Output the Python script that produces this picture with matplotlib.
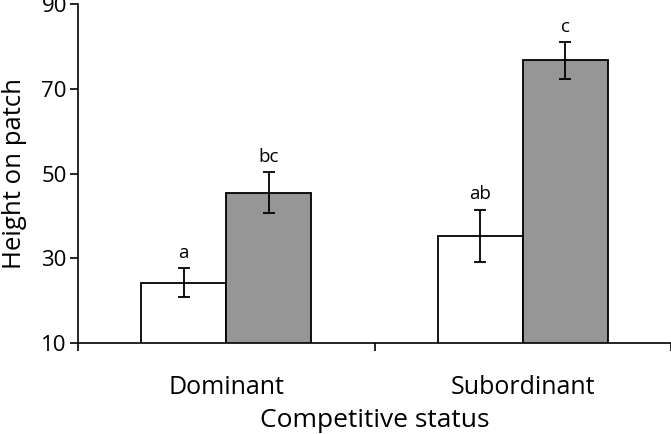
import numpy as np
import matplotlib.pyplot as plt

# values
groups = ["Dominant", "Subordinant"]
white_means = [24.2, 35.3]
white_err = [3.4, 6.2]
grey_means = [45.5, 76.7]
grey_err = [4.8, 4.3]
white_letters = ["a", "ab"]
grey_letters = ["bc", "c"]

plt.rcParams['font.family'] = ['Open Sans', 'DejaVu Sans']

fig = plt.figure(figsize=(6.71, 4.34), dpi=100)
ax = fig.add_axes([78 / 671, 1 - 343 / 434, 1 - 78 / 671, 339 / 434])

x = np.arange(len(groups))
w = 0.287
ekw = dict(ecolor='black', elinewidth=1.3, capsize=4.5, capthick=1.3)
ax.bar(x - w / 2, white_means, w, yerr=white_err, color='white',
       edgecolor='black', linewidth=1.3, error_kw=ekw, zorder=2)
ax.bar(x + w / 2, grey_means, w, yerr=grey_err, color='#969696',
       edgecolor='black', linewidth=1.3, error_kw=ekw, zorder=2)

for i in range(len(groups)):
    ax.text(x[i] - w / 2, white_means[i] + white_err[i] + 1.5, white_letters[i],
            ha='center', va='bottom', fontsize=13.5)
    ax.text(x[i] + w / 2, grey_means[i] + grey_err[i] + 1.5, grey_letters[i],
            ha='center', va='bottom', fontsize=13.5)

ax.set_xlim(-0.5, 1.5)
ax.set_ylim(10, 90)
ax.set_yticks([10, 30, 50, 70, 90])
ax.set_xticks([-0.5, 0.5, 1.5])
ax.set_xticklabels([])
ax.set_xticks(x, minor=True)
ax.set_xticklabels(groups, minor=True, fontsize=18)
ax.tick_params(axis='x', which='minor', length=0, pad=23)
ax.tick_params(axis='x', which='major', length=6, width=1.2, direction='out')
ax.tick_params(axis='y', length=6, width=1.2, direction='out', labelsize=16, pad=2)

for s in ['top', 'right']:
    ax.spines[s].set_visible(False)
for s in ['left', 'bottom']:
    ax.spines[s].set_linewidth(1.2)

ax.set_ylabel("Height on patch", fontsize=18.5, labelpad=10)
ax.set_xlabel("Competitive status", fontsize=19, labelpad=6)

fig.savefig("out.png", dpi=100)
